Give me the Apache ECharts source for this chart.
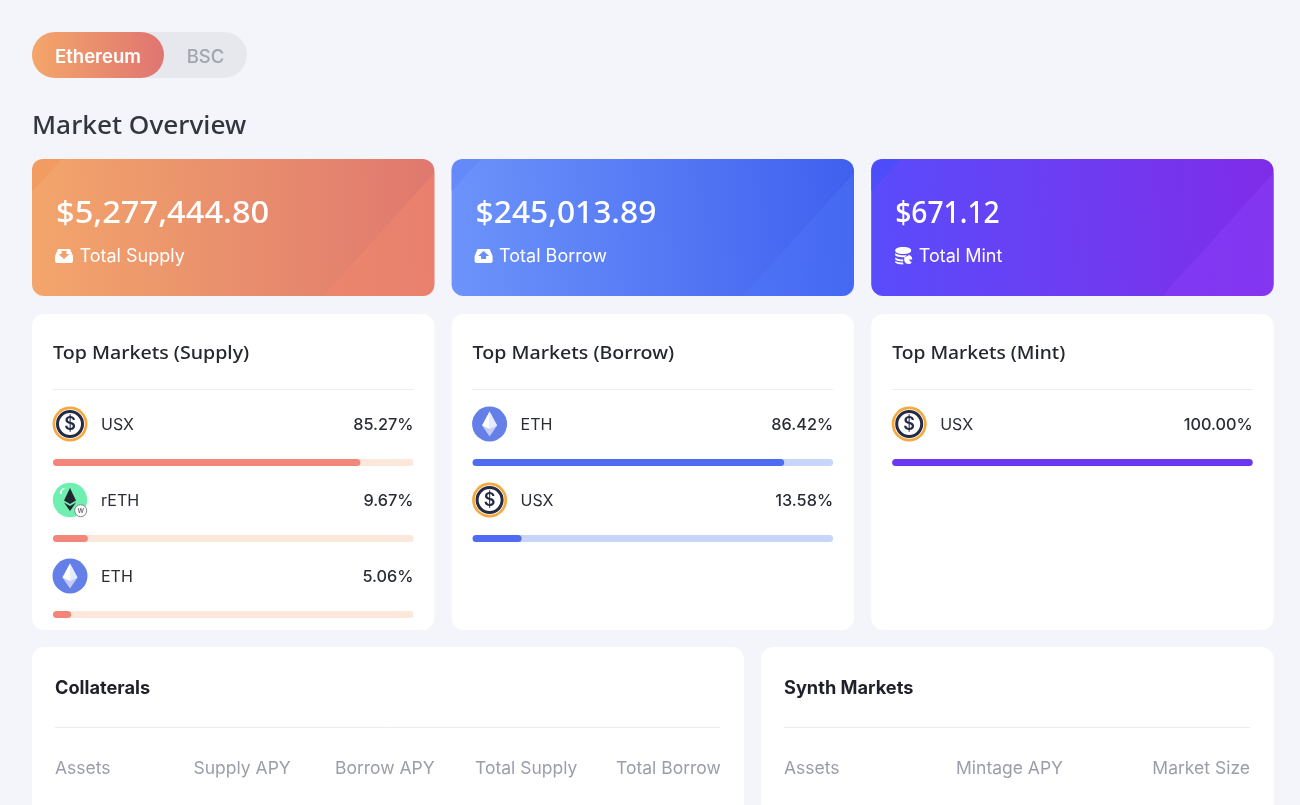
<!DOCTYPE html>
<html><head><meta charset="utf-8">
<style>html,body{margin:0;padding:0;background:#f3f5fb;overflow:hidden}#c{width:1300px;height:805px}</style>
<script src="https://cdn.jsdelivr.net/npm/echarts@6/dist/echarts.min.js"></script>
</head><body><div id="c"></div>
<script>
// ---- data ----
const networks = ['Ethereum', 'BSC'];
const pageTitle = 'Market Overview';
const totalLabels = ['Total Supply', 'Total Borrow', 'Total Mint'];
const totalValues = ['$5,277,444.80', '$245,013.89', '$671.12'];
const panelTitles = ['Top Markets (Supply)', 'Top Markets (Borrow)', 'Top Markets (Mint)'];
const supplyAssets = ['USX', 'rETH', 'ETH'];
const supplyShares = [85.27, 9.67, 5.06];
const borrowAssets = ['ETH', 'USX'];
const borrowShares = [86.42, 13.58];
const mintAssets = ['USX'];
const mintShares = [100.00];
const collateralColumns = ['Assets', 'Supply APY', 'Borrow APY', 'Total Supply', 'Total Borrow'];
const synthColumns = ['Assets', 'Mintage APY', 'Market Size'];

// ---- layout / style ----
const SANS = 'Inter, "Noto Sans", sans-serif';
const HEAD = '"Noto Sans", Inter, sans-serif';
const colX = [32, 451.6, 871.2];
const CARD_W = 402.4;
const cardStyles = [
  {a:'#f3a56b', b:'#df786f', tri:'rgba(240,135,110,0.55)', tl:'#f19a60', sx:1.087, tsx:1.09},
  {a:'#6c93fa', b:'#3f60ef', tri:'rgba(85,125,250,0.28)', tl:'#6288f8', sx:1.058, tsx:1.09},
  {a:'#5a4cfb', b:'#802ce8', tri:'rgba(135,60,245,0.6)', tl:'#4a4cfa', sx:0.94, tsx:1.07}
];
const barStyles = [
  {fill:'#f2867a', track:'#fbe8da'},
  {fill:'#4f6bf1', track:'#c8d5fa'},
  {fill:'#6a38f0', track:'#e0d6fb'}
];
const panels = [
  {names:supplyAssets, shares:supplyShares},
  {names:borrowAssets, shares:borrowShares},
  {names:mintAssets, shares:mintShares}
];

const g = [];
let pid = 0;
function pathEl(d, style){
  const name = 'shp' + (pid++);
  echarts.graphic.registerShape(name, echarts.graphic.extendPath(d));
  return {type:name, silent:true, style};
}
const rect = (x,y,w,h,r,fill) => g.push({type:'rect',shape:{x,y,width:w,height:h,r},style:{fill},silent:true});
const text = (x,y,t,font,fill,align,sx) => g.push({type:'text',x,y,scaleX:sx||1,silent:true,style:{text:t,font,fill,textAlign:align||'left',textVerticalAlign:'middle'}});
const path = (d,fill,opacity) => g.push(pathEl(d,{fill,opacity:opacity==null?1:opacity}));
const hgrad = (a,b) => new echarts.graphic.LinearGradient(0,0,1,0,[{offset:0,color:a},{offset:1,color:b}]);
const grad = (a,b) => new echarts.graphic.LinearGradient(0,0.15,1,0,[{offset:0,color:a},{offset:1,color:b}]);

// toggle
rect(32,32,215,46,23,'#e6e8ee');
rect(32,32,132,46,23,hgrad('#f4a66a','#df7571'));
text(98,57,networks[0],'600 18.5px '+SANS,'#ffffff','center');
text(205.5,57,networks[1],'500 18.5px '+SANS,'#a2a4ae','center');
text(32,127,pageTitle,'500 26px '+HEAD,'#33363d','left',1.01);

// top cards
const icons = [
  x => `M${x+3},249h12l3,7v5q0,2 -2,2h-14q-2,0 -2,-2v-5z M${x+6.5},251v3h-3l5.5,5 5.5,-5h-3v-3z`,
  x => `M${x+3},249h12l3,7v5q0,2 -2,2h-14q-2,0 -2,-2v-5z M${x+6.5},259h5v-3h3l-5.5,-5 -5.5,5h3z`,
  x => `M${x+9},247c5,0 8,1.5 8,3.5s-3,3.5 -8,3.5s-8,-1.5 -8,-3.5s3,-3.5 8,-3.5z M${x+1},253c2,2.5 11,3 15,1.5l-5,2.5c-4,.5 -8,0 -10,-1.5z M${x+1},257.5c2,1.5 5,2 8,2v2c-4,0 -7,-1 -8,-2z M${x+1},261c2,1 5,1.7 8,1.8v1.7c-4,0 -7,-1 -8,-2z M${x+14.5},255a4.5,4.5 0 1 0 3,7.8l-3,-3.3h3.5a4.5,4.5 0 0 0 -3.5,-4.5z`
];
colX.forEach((x,i) => {
  const s = cardStyles[i];
  rect(x,159,CARD_W,137,12,grad(s.a,s.b));
  path(`M${x+291},296 L${x+390},296 Q${x+402.4},296 ${x+402.4},284 L${x+402.4},173 Z`, s.tri);
  path(`M${x+30},159 L${x+12},159 Q${x},159 ${x},171 L${x},191 Z`, s.tl, 0.8);
  text(x+24,214,totalValues[i],'500 30px '+HEAD,'#ffffff','left',s.sx);
  path(icons[i](x+23),'#ffffff');
  text(x+47.5,257,totalLabels[i],'400 18px '+SANS,'#ffffff');
});

// middle panels
function assetIcon(name,cx,cy){
  const kids=[];
  const c=(r,fill,stroke,lw)=>kids.push({type:'circle',shape:{cx:0,cy:0,r},style:{fill,stroke,lineWidth:lw||0}});
  const p=(d,fill,op)=>kids.push(pathEl(d,{fill,opacity:op==null?1:op}));
  if(name==='USX'){
    c(17.5,'#f5a93c'); c(14.8,'#ffffff'); c(12.5,'#ffffff','#252a45',3);
    kids.push({type:'text',x:0,y:1,style:{text:'$',font:'600 18px '+SANS,fill:'#252a45',textAlign:'center',textVerticalAlign:'middle'}});
  } else if(name==='ETH'){
    c(17.5,'#647fe8');
    p('M0,-12.5 L7.5,1.5 L0,12.5 L-7.5,1.5Z','#c3cef8');
    p('M0,-12.5 L0,5 L-7.5,1.5Z','#ffffff');
    p('M0,-12.5 L7.5,1.5 L0,5Z','#e6ebfd');
  } else {
    c(17.2,'#6ff0b0');
    p('M0,-12 L6,0.5 L0,4 L-6,0.5Z','#22262e');
    p('M0,6 L6,2.5 L0,11 L-6,2.5Z','#22262e');
    p('M-10,-9 L-7,-12 L-5,-12 L-8,-9 L-8,-6 L-10,-6Z','#e9fff5');
    kids.push({type:'circle',shape:{cx:10.7,cy:10.7,r:6},style:{fill:'#ffffff',stroke:'#888',lineWidth:1}});
    kids.push({type:'text',x:10.7,y:10.7,style:{text:'w',font:'500 8px '+SANS,fill:'#666',textAlign:'center',textVerticalAlign:'middle'}});
  }
  g.push({type:'group',x:cx,y:cy,silent:true,children:kids});
}

const grids=[],xAxes=[],yAxes=[],series=[];
const rowStep=76;
colX.forEach((x,i)=>{
  rect(x,314,CARD_W,316,12,'#ffffff');
  const left=x+21, right=x+381.5;
  text(left,354,panelTitles[i],'500 18px '+HEAD,'#25272e','left',cardStyles[i].tsx);
  g.push({type:'line',silent:true,shape:{x1:left,y1:389.5,x2:right,y2:389.5},style:{stroke:'#ececf0',lineWidth:1}});
  const P=panels[i];
  P.names.forEach((n,k)=>{
    const y=424+rowStep*k;
    assetIcon(n,left+17,y);
    text(left+48,y+1,n,'400 16px '+SANS,'#2a2c36');
    text(right,y+1,P.shares[k].toFixed(2)+'%','500 16.3px '+SANS,'#2a2c36','right');
    const idx=grids.length;
    grids.push({left,width:360.5,top:459+rowStep*k,height:7,containLabel:false});
    xAxes.push({gridIndex:idx,type:'value',min:0,max:100,show:false});
    yAxes.push({gridIndex:idx,type:'category',data:[n],show:false});
    series.push({type:'bar',xAxisIndex:idx,yAxisIndex:idx,data:[P.shares[k]],barWidth:7,silent:true,z:5,
      showBackground:true,backgroundStyle:{color:barStyles[i].track,borderRadius:3.5},
      itemStyle:{color:barStyles[i].fill,borderRadius:3.5}});
  });
});

// bottom tables
rect(32,647,712,180,12,'#ffffff');
rect(761,647,512.6,180,12,'#ffffff');
text(55,688.5,'Collaterals','700 18.2px '+SANS,'#1f2029');
text(784,688.5,'Synth Markets','700 18.2px '+SANS,'#1f2029');
[[55,720],[784,1250]].forEach(([a,b])=>g.push({type:'line',silent:true,shape:{x1:a,y1:727.5,x2:b,y2:727.5},style:{stroke:'#ececf0',lineWidth:1}}));
const thFont='400 17.5px '+SANS, thCol='#9b9da9';
const collX=[55,193.5,335,475,616];
collateralColumns.forEach((t,i)=>text(collX[i],769,t,thFont,thCol));
text(784,769,synthColumns[0],thFont,thCol);
text(1063,769,synthColumns[1],thFont,thCol,'right');
text(1250,769,synthColumns[2],thFont,thCol,'right');

const chart=echarts.init(document.getElementById('c'),null,{renderer:'canvas'});
chart.setOption({backgroundColor:'#f3f5fb',animation:false,tooltip:{show:false},grid:grids,xAxis:xAxes,yAxis:yAxes,series,
  graphic:{elements:g}});
</script></body></html>
